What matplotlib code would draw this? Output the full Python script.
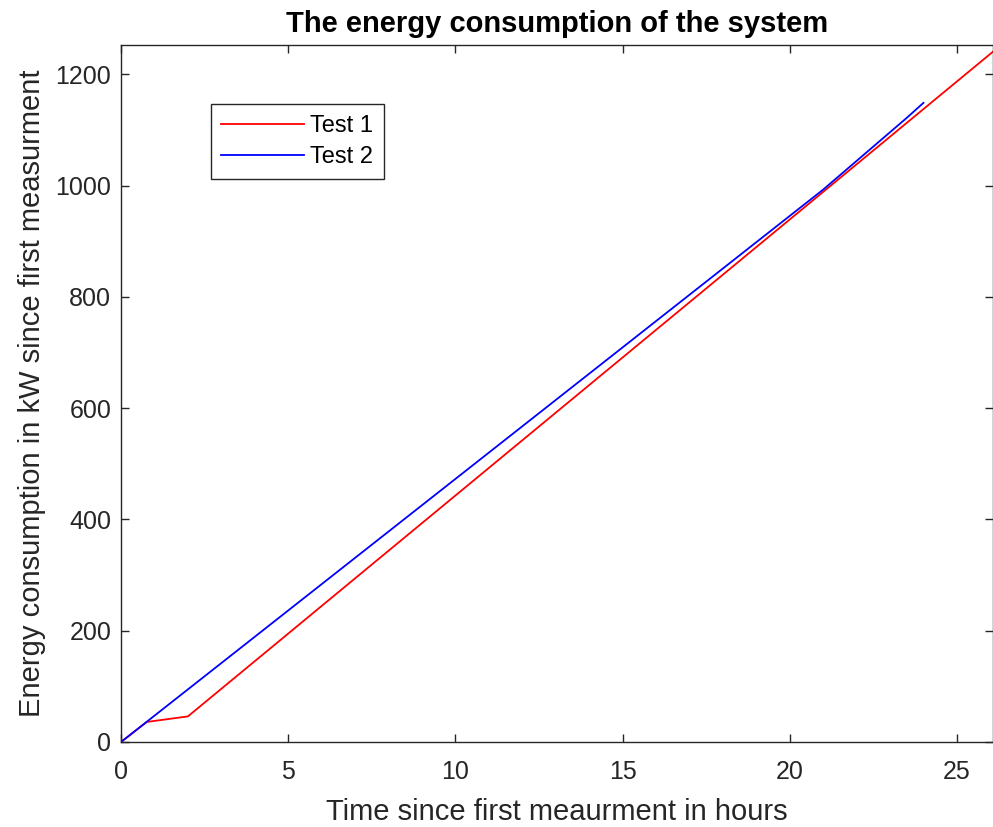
import matplotlib
matplotlib.use('Agg')
import matplotlib.pyplot as plt

# data
test1_hours = [0, 0.77, 2.0, 26.1]
test1_energy = [0, 36, 46, 1242]
test2_hours = [0, 21.0, 23.5, 24.0]
test2_energy = [0, 993, 1122, 1149]

x_ticks = [0, 5, 10, 15, 20, 25]
y_ticks = [0, 200, 400, 600, 800, 1000, 1200]

plt.rcParams['font.family'] = ['Liberation Sans', 'DejaVu Sans']
axis_col = '#262626'

fig = plt.figure(figsize=(9.93, 8.27), dpi=100)
ax = fig.add_axes([0.1219, 0.1028, 0.8781, 0.8428])

ax.plot(test1_hours, test1_energy, color='#ff0000', lw=1.3, label='Test 1')
ax.plot(test2_hours, test2_energy, color='#0000ff', lw=1.3, label='Test 2')

ax.set_xlim(0, 26.08)
ax.set_ylim(0, 1253)
ax.set_xticks(x_ticks)
ax.set_yticks(y_ticks)
ax.tick_params(direction='in', top=True, right=True, length=6, width=1,
               colors=axis_col, labelsize=18)
ax.tick_params(axis='x', pad=13)
ax.tick_params(axis='y', pad=7)
for s in ax.spines.values():
    s.set_color(axis_col)
    s.set_linewidth(1)

ax.set_xlabel('Time since first meaurment in hours', fontsize=21, color=axis_col, labelpad=10)
ax.set_ylabel('Energy consumption in kW since first measurment', fontsize=21, color=axis_col, labelpad=7)
ax.set_title('The energy consumption of the system', fontsize=21, fontweight='bold', pad=9)

leg = ax.legend(loc='upper left', bbox_to_anchor=(0.103, 0.915), borderaxespad=0,
                fancybox=False, edgecolor='#262626', fontsize=17, handlelength=3.5,
                framealpha=1, borderpad=0.45, labelspacing=0.4, handletextpad=0.25)
leg.get_frame().set_linewidth(1)

fig.savefig('out.png', dpi=100)
